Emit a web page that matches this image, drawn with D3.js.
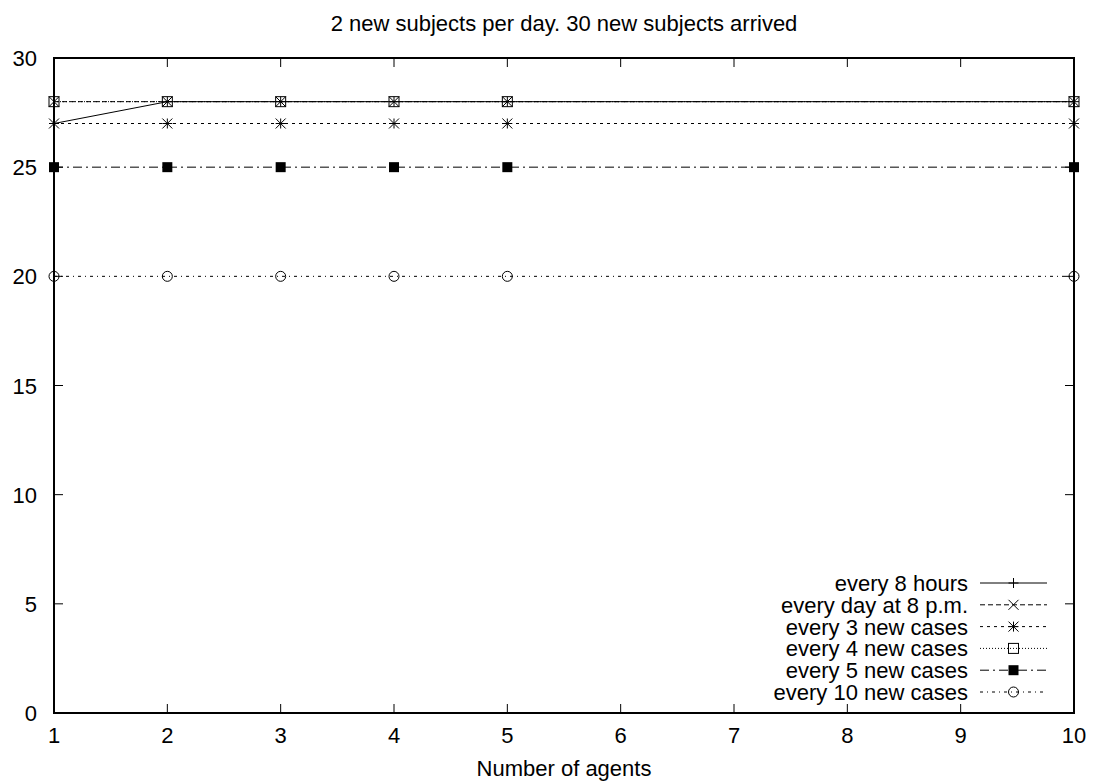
<!DOCTYPE html>
<html><head><meta charset="utf-8">
<script src="https://cdn.jsdelivr.net/npm/d3@7"></script>
<style>body{margin:0;background:#fff}svg{display:block;font-family:"Liberation Sans",Arial,sans-serif}</style>
</head><body><svg id="c" width="1093" height="783"></svg>
<script>
const title = "2 new subjects per day. 30 new subjects arrived";
const xLabel = "Number of agents";
const xValues = [1, 2, 3, 4, 5, 10];
const xTicks = [1,2,3,4,5,6,7,8,9,10];
const yTicks = [0,5,10,15,20,25,30];
const seriesNames = ["every 8 hours","every day at 8 p.m.","every 3 new cases","every 4 new cases","every 5 new cases","every 10 new cases"];
const every8hours = [27, 28, 28, 28, 28, 28];
const everyDay8pm = [28, 28, 28, 28, 28, 28];
const every3cases = [27, 27, 27, 27, 27, 27];
const every4cases = [28, 28, 28, 28, 28, 28];
const every5cases = [25, 25, 25, 25, 25, 25];
const every10cases = [20, 20, 20, 20, 20, 20];
const seriesValues = [every8hours, everyDay8pm, every3cases, every4cases, every5cases, every10cases];
const dashes = ["none", "5,3", "3,4", "1,2", "9,4,2,4", "3,4,1,4"];
const markers = ["plus","cross","star","box","fbox","circle"];

const svg = d3.select("#c");
const L=54, R=1074, T=58, B=713;
const FS = 22;
const x = d3.scaleLinear().domain([1,10]).range([L,R]);
const y = d3.scaleLinear().domain([0,30]).range([B,T]);

function drawMarker(g, type, cx, cy){
  const s=5;
  if(type==="plus"||type==="star"){
    g.append("path").attr("d",`M${cx-s},${cy}H${cx+s}M${cx},${cy-s}V${cy+s}`).attr("stroke","#000").attr("fill","none");
  }
  if(type==="cross"||type==="star"){
    g.append("path").attr("d",`M${cx-s},${cy-s}L${cx+s},${cy+s}M${cx-s},${cy+s}L${cx+s},${cy-s}`).attr("stroke","#000").attr("fill","none");
  }
  if(type==="box"){
    g.append("rect").attr("x",cx-s).attr("y",cy-s).attr("width",2*s).attr("height",2*s).attr("stroke","#000").attr("fill","none");
  }
  if(type==="fbox"){
    g.append("rect").attr("x",cx-s).attr("y",cy-s).attr("width",2*s).attr("height",2*s).attr("fill","#000");
  }
  if(type==="circle"){
    g.append("circle").attr("cx",cx).attr("cy",cy).attr("r",s).attr("stroke","#000").attr("fill","none");
  }
}

// title and labels
svg.append("text").attr("x",(L+R)/2).attr("y",31).attr("text-anchor","middle").attr("font-size",FS).text(title);
svg.append("text").attr("x",(L+R)/2).attr("y",776).attr("text-anchor","middle").attr("font-size",FS).text(xLabel);

// ticks (inward, mirrored)
const tk=9;
const tg = svg.append("g").attr("stroke","#000").attr("stroke-width",1);
xTicks.forEach(t=>{
  tg.append("line").attr("x1",x(t)).attr("x2",x(t)).attr("y1",B).attr("y2",B-tk);
  tg.append("line").attr("x1",x(t)).attr("x2",x(t)).attr("y1",T).attr("y2",T+tk);
  svg.append("text").attr("x",x(t)).attr("y",B+30).attr("text-anchor","middle").attr("font-size",FS).text(t);
});
yTicks.forEach(t=>{
  tg.append("line").attr("x1",L).attr("x2",L+tk).attr("y1",y(t)).attr("y2",y(t));
  tg.append("line").attr("x1",R).attr("x2",R-tk).attr("y1",y(t)).attr("y2",y(t));
  svg.append("text").attr("x",L-17).attr("y",y(t)+8).attr("text-anchor","end").attr("font-size",FS).text(t);
});

// series
const line = d3.line().x((d,i)=>x(xValues[i])).y(d=>y(d));
seriesValues.forEach((vals,k)=>{
  const g = svg.append("g");
  g.append("path").datum(vals).attr("d",line).attr("fill","none").attr("stroke","#000").attr("stroke-width",1)
   .attr("stroke-dasharray",dashes[k]==="none"?null:dashes[k]);
  vals.forEach((v,i)=>drawMarker(g, markers[k], x(xValues[i]), y(v)));
});

// frame
svg.append("rect").attr("x",L).attr("y",T).attr("width",R-L).attr("height",B-T).attr("fill","none").attr("stroke","#000").attr("stroke-width",2);

// legend
const lx1=980, lx2=1047, ly0=583, ldy=21.8;
seriesNames.forEach((n,k)=>{
  const yy = ly0 + k*ldy;
  const g = svg.append("g");
  g.append("text").attr("x",968).attr("y",yy+8).attr("text-anchor","end").attr("font-size",FS).text(n);
  g.append("line").attr("x1",lx1).attr("x2",lx2).attr("y1",yy).attr("y2",yy).attr("stroke","#000").attr("stroke-width",1)
   .attr("stroke-dasharray",dashes[k]==="none"?null:dashes[k]);
  drawMarker(g, markers[k], (lx1+lx2)/2, yy);
});
</script></body></html>
